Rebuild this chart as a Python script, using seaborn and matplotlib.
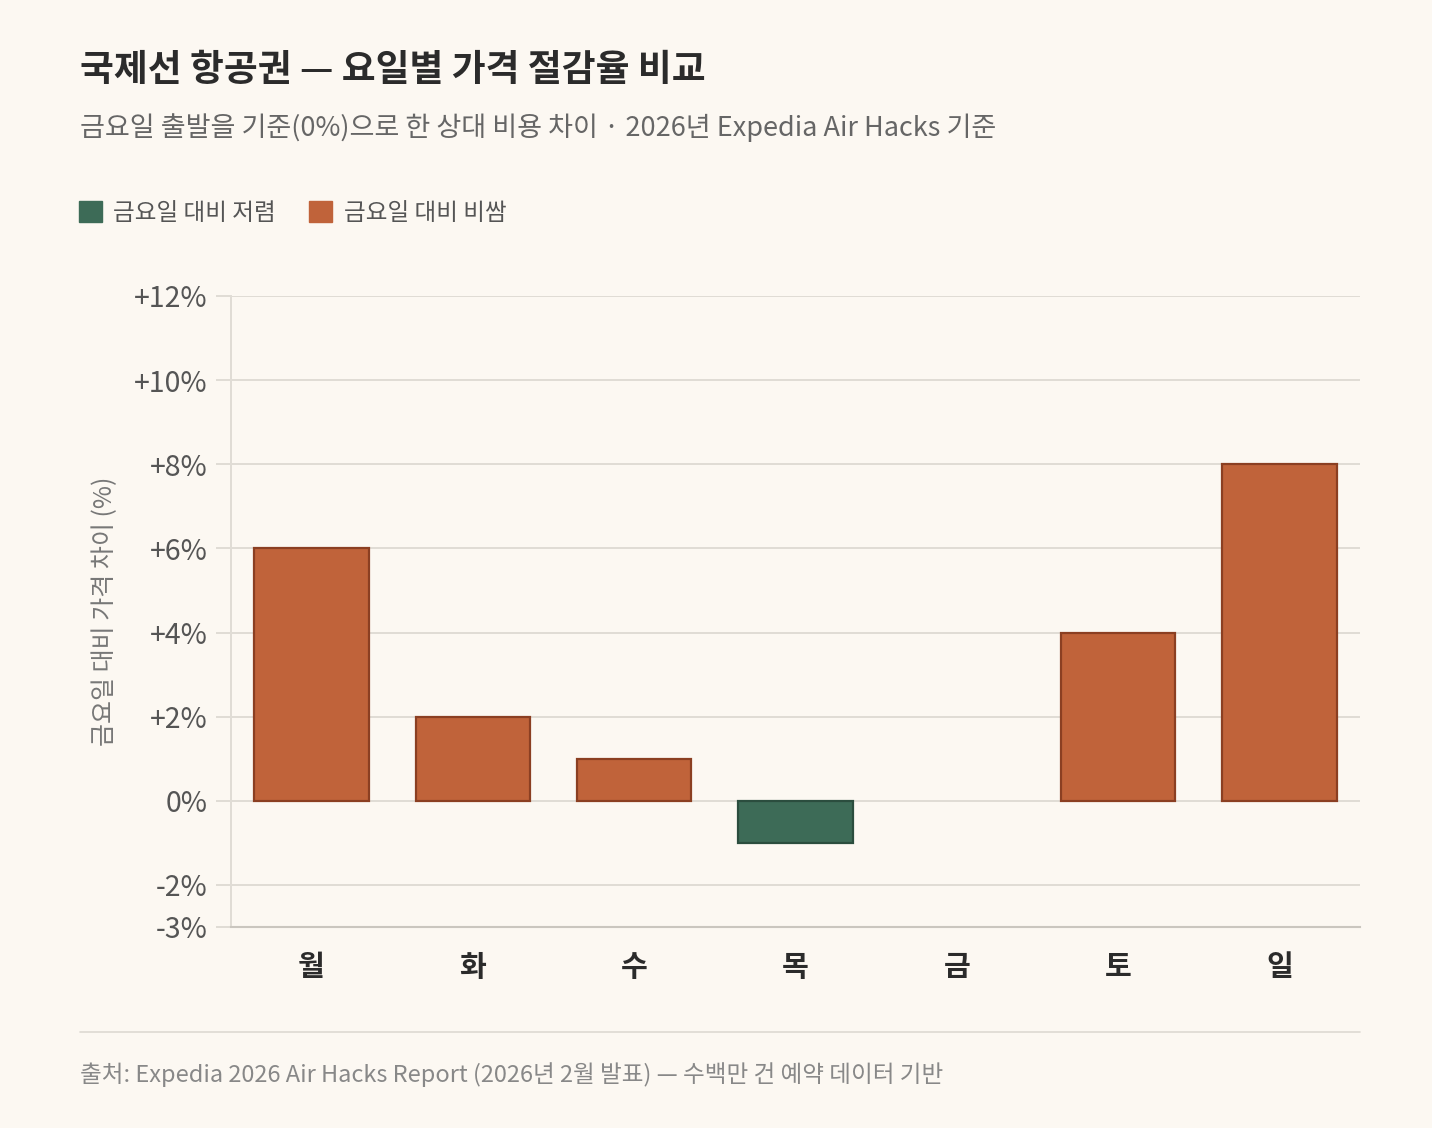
import matplotlib
matplotlib.use("Agg")
import matplotlib.pyplot as plt
from matplotlib.patches import Patch
import pandas as pd
import seaborn as sns

days = ["월", "화", "수", "목", "금", "토", "일"]
diff_pct = [6, 2, 1, -1, 0, 4, 8]
yticks = [12, 10, 8, 6, 4, 2, 0, -2, -3]
ytick_labels = ["+12%", "+10%", "+8%", "+6%", "+4%", "+2%", "0%", "-2%", "-3%"]

cheap_label = "금요일 대비 저렴"
pricey_label = "금요일 대비 비쌈"

df = pd.DataFrame({"day": days, "diff": diff_pct})
df["kind"] = [cheap_label if v < 0 else pricey_label for v in df["diff"]]

bg = "#FCF8F2"
orange = "#C0633A"
green = "#3D6B57"
grid_c = "#E0DCD5"

sns.set_theme(style="white")
plt.rcParams["font.family"] = ["Noto Sans CJK KR", "DejaVu Sans"]

fig = plt.figure(figsize=(14.32, 11.28), dpi=100, facecolor=bg)
ax = fig.add_axes([231 / 1432, 1 - 927 / 1128, 1129 / 1432, 631 / 1128])
ax.set_facecolor(bg)

sns.barplot(data=df, x="day", y="diff", hue="kind", order=days,
            palette={cheap_label: green, pricey_label: orange},
            dodge=False, width=0.71, saturation=1, legend=False, ax=ax)

for p in ax.patches:
    h = p.get_height()
    if h == 0:
        p.set_linewidth(0)
    elif h < 0:
        p.set_edgecolor("#2B4D3E")
        p.set_linewidth(1.6)
    else:
        p.set_edgecolor("#8B3F22")
        p.set_linewidth(1.6)

ax.set_ylim(-3, 12)
ax.set_xlim(-0.5, 6.5)
ax.set_yticks(yticks)
ax.set_yticklabels(ytick_labels)
ax.set_axisbelow(True)
ax.yaxis.grid(True, color=grid_c, linewidth=1.4)
ax.tick_params(axis="y", length=11, width=1.4, color=grid_c, pad=6,
               labelsize=20.5, labelcolor="#555555", left=True)
ax.tick_params(axis="x", length=0, pad=18, labelsize=21)
for lbl in ax.get_xticklabels():
    lbl.set_fontweight("bold")
    lbl.set_color("#2B2B2B")

for side in ["top", "right"]:
    ax.spines[side].set_visible(False)
ax.spines["left"].set_color(grid_c)
ax.spines["left"].set_linewidth(1.4)
ax.spines["bottom"].set_color("#CAC6BF")
ax.spines["bottom"].set_linewidth(1.5)

ax.set_xlabel("")
ax.set_ylabel("금요일 대비 가격 차이 (%)", fontsize=18, color="#777777")
ax.yaxis.set_label_coords(-0.1, 0.5)

fig.text(80 / 1432, 1 - 70 / 1128, "국제선 항공권 — 요일별 가격 절감율 비교",
         fontsize=26.5, fontweight="bold", color="#2B2B2B", va="center")
fig.text(80 / 1432, 1 - 128 / 1128,
         "금요일 출발을 기준(0%)으로 한 상대 비용 차이 · 2026년 Expedia Air Hacks 기준",
         fontsize=19.5, color="#666666", va="center")

handles = [Patch(facecolor=green, edgecolor=green, label=cheap_label),
           Patch(facecolor=orange, edgecolor=orange, label=pricey_label)]
fig.legend(handles=handles, loc="center left", bbox_to_anchor=(58 / 1432, 1 - 213 / 1128),
           ncol=2, frameon=False, fontsize=17, labelcolor="#555555",
           handlelength=0.95, handleheight=0.95, handletextpad=0.5, columnspacing=1.4)

fig.add_artist(plt.Line2D([80 / 1432, 1360 / 1432], [1 - 1032 / 1128, 1 - 1032 / 1128],
                          color="#DDD9D2", linewidth=1.2))
fig.text(80 / 1432, 1 - 1075 / 1128,
         "출처: Expedia 2026 Air Hacks Report (2026년 2월 발표) — 수백만 건 예약 데이터 기반",
         fontsize=17, color="#888888", va="center")

fig.savefig("out.png", dpi=100, facecolor=bg)
